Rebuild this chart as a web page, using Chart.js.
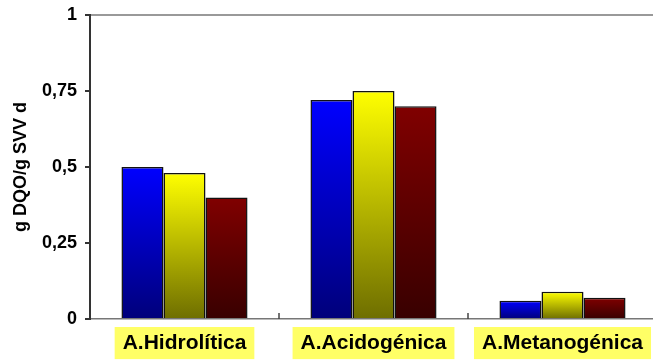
<!DOCTYPE html>
<html>
<head>
<meta charset="utf-8">
<script src="https://cdn.jsdelivr.net/npm/chart.js@4.4.1/dist/chart.umd.min.js"></script>
<style>
  html, body { margin: 0; padding: 0; background: #fff; overflow: hidden; }
  #wrap { position: relative; width: 657px; height: 360px; }
</style>
</head>
<body>
<div id="wrap"><canvas id="chart"></canvas></div>
<script>
// fases del proceso y actividad medida en cada una
const categories = ['A.Hidrolítica', 'A.Acidogénica', 'A.Metanogénica'];
const serie1 = [0.50, 0.72, 0.06];
const serie2 = [0.48, 0.75, 0.09];
const serie3 = [0.40, 0.70, 0.07];
const yTicks = [0, 0.25, 0.5, 0.75, 1];
const yTickLabels = ['0', '0,25', '0,5', '0,75', '1'];

const FONT = "'Liberation Sans', Arial, sans-serif";

// degradado vertical por barra: color claro arriba, oscuro abajo
function barGradient(topColor, bottomColor) {
    return function (c) {
        const chart = c.chart;
        if (c.type !== 'data' || !chart.chartArea) return topColor;
        const y = chart.scales.y;
        const top = y.getPixelForValue(c.raw);
        const base = y.getPixelForValue(0);
        if (!isFinite(top) || top === base) return topColor;
        const g = chart.ctx.createLinearGradient(0, top, 0, base);
        g.addColorStop(0, topColor);
        g.addColorStop(1, bottomColor);
        return g;
    };
}

// marcas cortas hacia dentro entre categorías
const innerTicks = {
    id: 'innerTicks',
    afterDatasetsDraw(chart) {
        const x = chart.scales.x;
        const ctx = chart.ctx;
        const bottom = chart.chartArea.bottom;
        ctx.save();
        ctx.strokeStyle = '#444';
        ctx.lineWidth = 1.5;
        for (let i = 0; i < categories.length - 1; i++) {
            const px = (x.getPixelForValue(i) + x.getPixelForValue(i + 1)) / 2;
            ctx.beginPath();
            ctx.moveTo(px, bottom);
            ctx.lineTo(px, bottom - 6);
            ctx.stroke();
        }
        ctx.restore();
    }
};

const ctx = document.getElementById('chart').getContext('2d');
new Chart(ctx, {
    type: 'bar',
    data: {
        labels: categories,
        datasets: [{
            label: 'Serie 1',
            data: serie1,
            backgroundColor: barGradient('#0000ff', '#00007a')
        }, {
            label: 'Serie 2',
            data: serie2,
            backgroundColor: barGradient('#ffff00', '#6e6e00')
        }, {
            label: 'Serie 3',
            data: serie3,
            backgroundColor: barGradient('#800000', '#380000')
        }]
    },
    options: {
        responsive: true,
        maintainAspectRatio: false,
        animation: false,
        layout: { padding: { top: 15, left: 0, right: 0, bottom: 0 } },
        datasets: {
            bar: {
                borderColor: '#111',
                borderWidth: 1.5,
                borderSkipped: 'bottom',
                categoryPercentage: 0.667,
                barPercentage: 1
            }
        },
        plugins: {
            legend: { display: false },
            tooltip: { enabled: false }
        },
        scales: {
            x: {
                grid: { display: false, offset: true },
                border: { color: '#777', width: 1.5 },
                ticks: {
                    color: '#000',
                    font: { family: FONT, size: 21, weight: 'bold', lineHeight: 1.1 },
                    padding: 5,
                    maxRotation: 0,
                    showLabelBackdrop: true,
                    backdropColor: '#ffff66',
                    backdropPadding: { top: 5, bottom: 4, left: 8, right: 8 }
                },
                afterFit: function (scale) {
                    scale.height = 41;
                    scale.paddingLeft = 0;
                    scale.paddingRight = 0;
                }
            },
            y: {
                min: 0,
                max: 1,
                afterBuildTicks: function (scale) {
                    scale.ticks = yTicks.map(v => ({ value: v }));
                },
                grid: {
                    drawOnChartArea: true,
                    color: c => (c.tick && c.tick.value === 1) ? '#999' : 'rgba(0,0,0,0)',
                    lineWidth: 2,
                    tickColor: '#333',
                    tickLength: 5
                },
                border: { color: '#333', width: 2 },
                ticks: {
                    color: '#000',
                    padding: 8,
                    font: { family: FONT, size: 18, weight: 'bold' },
                    callback: function (v) {
                        const i = yTicks.indexOf(v);
                        return i >= 0 ? yTickLabels[i] : '';
                    }
                },
                title: {
                    display: true,
                    text: 'g DQO/g SVV d',
                    color: '#000',
                    font: { family: FONT, size: 18, weight: 'bold' },
                    padding: { top: 10, bottom: 0 }
                },
                afterFit: function (scale) {
                    scale.width = 90;
                    scale.paddingTop = 0;
                    scale.paddingBottom = 0;
                }
            }
        }
    },
    plugins: [innerTicks]
});
</script>
</body>
</html>
